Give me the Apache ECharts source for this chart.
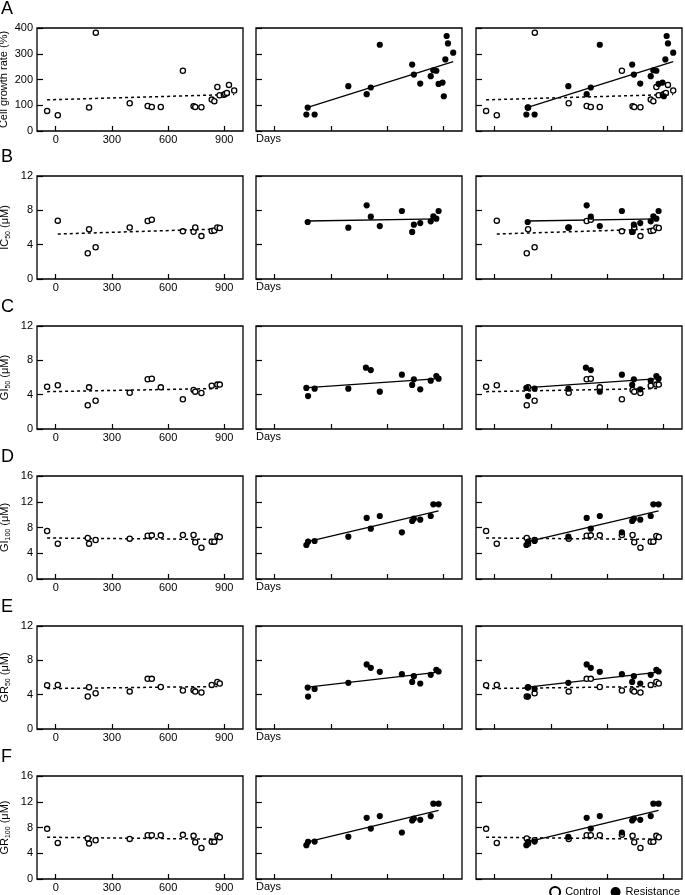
<!DOCTYPE html>
<html>
<head>
<meta charset="utf-8">
<script src="https://cdn.jsdelivr.net/npm/echarts@6/dist/echarts.min.js"></script>
<style>
html,body{margin:0;padding:0;background:#fff;}
#c{width:685px;height:895px;}
</style>
</head>
<body>
<div id="c"></div>
<script>
// ---------------- DATA ----------------
const xTicks = [0, 300, 600, 900];
const panelLetters = ['A', 'B', 'C', 'D', 'E', 'F'];
const yNames = ['Cell growth rate (%)', 'IC{s|50} (μM)', 'GI{s|50} (μM)', 'GI{s|100} (μM)', 'GR{s|50} (μM)', 'GR{s|100} (μM)'];
const yMax = [400, 12, 12, 16, 12, 16];
const yStep = [100, 4, 4, 4, 4, 4];

// Row A: cell growth rate
const ctrlDaysA = [-46, 11, 178, 214, 395, 491, 513, 561, 679, 736, 745, 778, 833, 847, 863, 875, 898, 905, 914, 925, 953];
const ctrlA     = [78, 61, 91, 382, 108, 97, 93, 93, 234, 96, 93, 92, 122, 116, 171, 139, 141, 144, 148, 179, 157];
const resDaysA  = [169, 176, 213, 393, 491, 513, 561, 734, 743, 777, 833, 847, 863, 875, 896, 903, 911, 918, 925, 953];
const resA      = [64, 91, 64, 174, 143, 169, 335, 258, 219, 184, 213, 236, 234, 183, 188, 135, 278, 369, 340, 304];
const ctrlTrendA = [[-46, 121], [953, 142]];
const resTrendA  = [[176, 92], [953, 269]];

// Row B: IC50
const ctrlDaysB = [11, 171, 178, 213, 395, 491, 513, 679, 736, 745, 778, 833, 847, 863, 876];
const ctrlB     = [6.8, 3.0, 5.8, 3.7, 6.0, 6.75, 6.9, 5.55, 5.5, 6.0, 5.0, 5.6, 5.65, 6.0, 5.95];
const resDaysB  = [176, 393, 491, 513, 561, 679, 734, 743, 777, 833, 847, 863, 875];
const resB      = [6.64, 5.98, 8.58, 7.26, 6.17, 7.92, 5.48, 6.33, 6.52, 6.72, 7.3, 7.03, 7.92];
const ctrlTrendB = [[11, 5.24], [876, 5.83]];
const resTrendB  = [[176, 6.76], [875, 7.0]];

// Row C: GI50
const ctrlDaysC = [-46, 11, 171, 178, 213, 395, 491, 513, 561, 679, 736, 745, 778, 833, 863, 876];
const ctrlC     = [4.93, 5.09, 2.76, 4.85, 3.3, 4.23, 5.79, 5.86, 4.85, 3.46, 4.54, 4.35, 4.19, 5.05, 5.17, 5.17];
const resDaysC  = [169, 178, 213, 393, 487, 513, 561, 679, 734, 743, 777, 833, 863, 875];
const resC      = [4.78, 3.84, 4.7, 4.7, 7.15, 6.87, 4.35, 6.33, 5.13, 5.79, 4.62, 5.63, 6.17, 5.86];
const ctrlTrendC = [[-46, 4.35], [876, 4.72]];
const resTrendC  = [[176, 4.82], [875, 5.86]];

// Row D: GI100
const ctrlDaysD = [-46, 11, 171, 178, 213, 395, 491, 513, 561, 679, 736, 745, 778, 833, 847, 863, 876];
const ctrlD     = [7.46, 5.49, 6.37, 5.49, 6.06, 6.27, 6.73, 6.78, 6.78, 6.84, 6.84, 5.7, 4.87, 5.8, 5.8, 6.68, 6.52];
const resDaysD  = [169, 178, 213, 393, 491, 513, 561, 679, 734, 743, 777, 833, 847, 875];
const resD      = [5.28, 5.8, 5.9, 6.58, 9.48, 7.82, 9.79, 7.25, 9.01, 9.37, 9.22, 9.79, 11.6, 11.6];
const ctrlTrendD = [[-46, 6.37], [876, 6.14]];
const resTrendD  = [[176, 5.8], [875, 10.6]];

// Row E: GR50
const ctrlDaysE = [-46, 11, 171, 178, 213, 395, 491, 513, 561, 679, 736, 745, 778, 833, 863, 876];
const ctrlE     = [5.1, 5.14, 3.78, 4.87, 4.17, 4.36, 5.84, 5.84, 4.9, 4.48, 4.52, 4.36, 4.25, 5.14, 5.49, 5.3];
const resDaysE  = [176, 178, 213, 393, 491, 513, 561, 679, 734, 743, 777, 833, 863, 875];
const resE      = [4.83, 3.78, 4.67, 5.38, 7.52, 7.13, 6.66, 6.39, 5.49, 6.16, 5.3, 6.31, 6.9, 6.7];
const ctrlTrendE = [[-46, 4.71], [863, 4.95]];
const resTrendE  = [[176, 4.87], [875, 6.62]];

// Row F: GR100
const ctrlDaysF = [-46, 11, 171, 178, 213, 395, 491, 513, 561, 679, 736, 745, 778, 833, 847, 863, 876];
const ctrlF     = [7.79, 5.61, 6.29, 5.5, 6.03, 6.23, 6.8, 6.8, 6.8, 6.86, 6.7, 5.71, 4.83, 5.77, 5.77, 6.7, 6.49];
const resDaysF  = [169, 178, 213, 393, 491, 513, 561, 679, 734, 743, 777, 833, 847, 875];
const resF      = [5.25, 5.77, 5.82, 6.55, 9.5, 7.84, 9.77, 7.22, 9.09, 9.4, 9.19, 9.77, 11.7, 11.7];
const ctrlTrendF = [[-46, 6.49], [863, 6.18]];
const resTrendF  = [[176, 5.77], [875, 10.65]];

const rowsData = [
  [ctrlDaysA, ctrlA, resDaysA, resA, ctrlTrendA, resTrendA],
  [ctrlDaysB, ctrlB, resDaysB, resB, ctrlTrendB, resTrendB],
  [ctrlDaysC, ctrlC, resDaysC, resC, ctrlTrendC, resTrendC],
  [ctrlDaysD, ctrlD, resDaysD, resD, ctrlTrendD, resTrendD],
  [ctrlDaysE, ctrlE, resDaysE, resE, ctrlTrendE, resTrendE],
  [ctrlDaysF, ctrlF, resDaysF, resF, ctrlTrendF, resTrendF]
];

// ---------------- LAYOUT ----------------
const FONT = 'Liberation Sans, Arial, Helvetica, sans-serif';
const colLeft = [37, 256, 476];
const gridW = 206;
const rowTop = [28, 176, 326, 476, 626, 776];
const gridH = 103;

const zip = (xs, ys) => xs.map((x, i) => [x, ys[i]]);

const grids = [], xAxes = [], yAxes = [], series = [], graphics = [];

const ctrlStyle = { color: '#fff', borderColor: '#000', borderWidth: 1.3, opacity: 1 };
const resStyle = { color: '#000', opacity: 1 };

rowsData.forEach((rd, r) => {
  const [cd, cv, rdays, rv, ct, rt] = rd;
  for (let c = 0; c < 3; c++) {
    const gi = r * 3 + c;
    grids.push({
      left: colLeft[c], top: rowTop[r], width: gridW, height: gridH,
      outerBoundsMode: 'none', containLabel: false,
      show: true, borderColor: '#000', borderWidth: 1.3, backgroundColor: 'transparent'
    });
    xAxes.push({
      gridIndex: gi, type: 'value', min: -100, max: 1000, position: 'bottom',
      axisLine: { show: false, onZero: false },
      splitLine: { show: false },
      axisTick: { show: true, inside: true, length: 5, customValues: xTicks, lineStyle: { color: '#000', width: 1.2 } },
      axisLabel: { show: c === 0, customValues: xTicks, fontSize: 11, color: '#000', fontFamily: FONT, margin: 3 }
    });
    yAxes.push({
      gridIndex: gi, type: 'value', min: 0, max: yMax[r], interval: yStep[r], position: 'left',
      axisLine: { show: false, onZero: false },
      splitLine: { show: false },
      axisTick: { show: true, inside: true, length: 6, lineStyle: { color: '#000', width: 1.2 } },
      axisLabel: { show: c === 0, fontSize: 11, color: '#000', fontFamily: FONT, margin: 4 },
      name: c === 0 ? yNames[r] : '',
      nameLocation: 'middle',
      nameGap: 25,
      nameTextStyle: {
        fontSize: 11, color: '#000', fontFamily: FONT, lineHeight: 14,
        rich: { s: { fontSize: 7, fontFamily: FONT, color: '#000', verticalAlign: 'bottom', lineHeight: 14 } }
      }
    });
    const showCtrl = c === 0 || c === 2;
    const showRes = c === 1 || c === 2;
    if (showCtrl) {
      series.push({
        name: 'Control trend', type: 'line', xAxisIndex: gi, yAxisIndex: gi,
        data: ct, symbol: 'none', z: 2, silent: true,
        lineStyle: { color: '#000', width: 1.5, type: [3, 3] }
      });
    }
    if (showRes) {
      series.push({
        name: 'Resistance trend', type: 'line', xAxisIndex: gi, yAxisIndex: gi,
        data: rt, symbol: 'none', z: 2, silent: true,
        lineStyle: { color: '#000', width: 1.3, type: 'solid' }
      });
    }
    if (showCtrl) {
      series.push({
        name: 'Control', type: 'scatter', xAxisIndex: gi, yAxisIndex: gi,
        data: zip(cd, cv), symbol: 'circle', symbolSize: 5.2, z: 3,
        itemStyle: ctrlStyle
      });
    }
    if (showRes) {
      series.push({
        name: 'Resistance', type: 'scatter', xAxisIndex: gi, yAxisIndex: gi,
        data: zip(rdays, rv), symbol: 'circle', symbolSize: 6.2, z: 4,
        itemStyle: resStyle
      });
    }
  }
  graphics.push({
    type: 'text', left: 1, top: rowTop[r] - 28,
    style: { text: panelLetters[r], fontSize: 18, fontFamily: FONT, fill: '#000' }
  });
  graphics.push({
    type: 'text', left: colLeft[1], top: rowTop[r] + gridH + 2,
    style: { text: 'Days', fontSize: 11, fontFamily: FONT, fill: '#000' }
  });
});

const chart = echarts.init(document.getElementById('c'), null, { renderer: 'canvas' });
chart.setOption({
  animation: false,
  backgroundColor: '#fff',
  textStyle: { fontFamily: FONT },
  grid: grids,
  xAxis: xAxes,
  yAxis: yAxes,
  series: series,
  graphic: graphics,
  legend: {
    data: ['Control', 'Resistance'],
    right: 0, top: 881,
    itemWidth: 10, itemHeight: 10, itemGap: 10,
    textStyle: { fontSize: 11, color: '#000', fontFamily: FONT },
    selectedMode: false
  }
});
</script>
</body>
</html>
